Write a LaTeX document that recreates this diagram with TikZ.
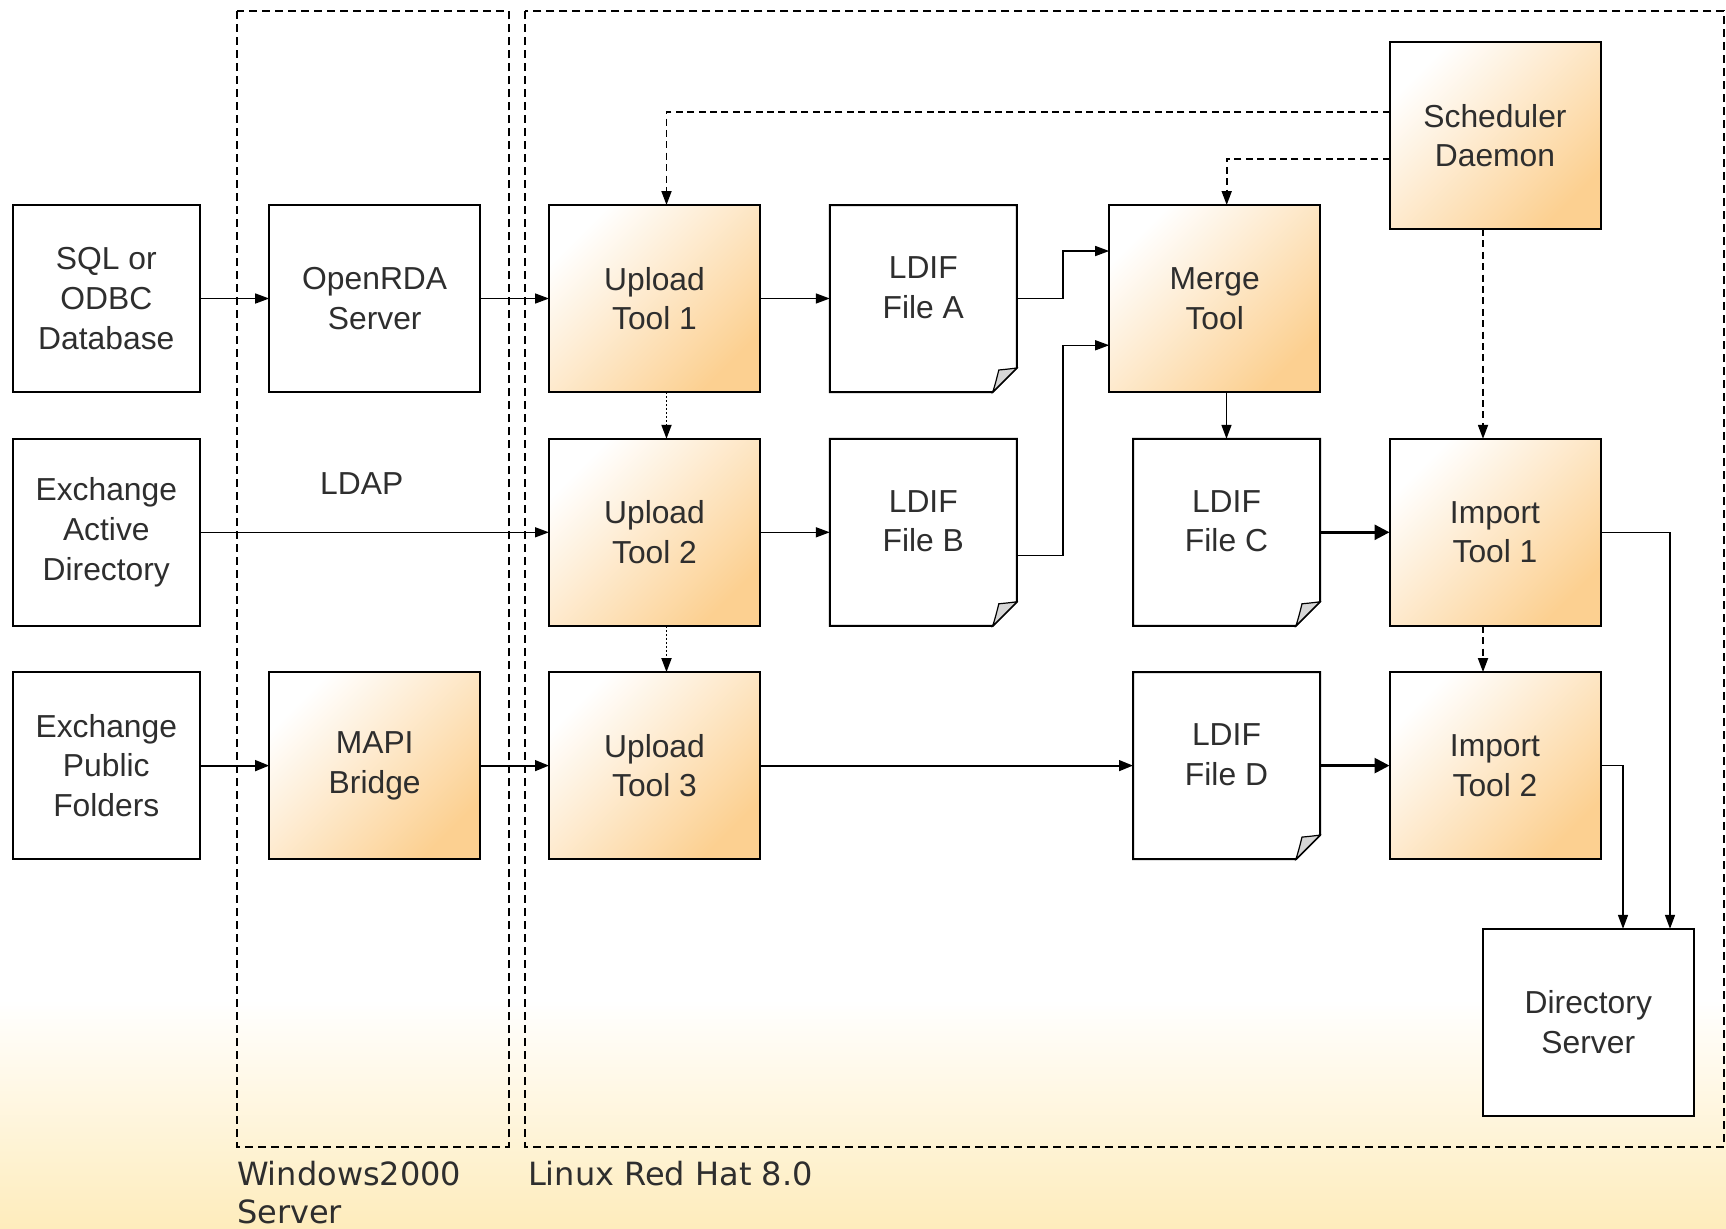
\documentclass[tikz,border=0pt]{standalone}
\usepackage{fontspec}
\setmainfont{Liberation Sans}
\newfontfamily\hostfont{DejaVu Sans}
\usetikzlibrary{arrows.meta,calc}

\definecolor{ink}{HTML}{2E2E2E}
\definecolor{boxorange}{RGB}{252,208,145}
\definecolor{boxmid}{RGB}{254,236,210}
\definecolor{bgyellow}{RGB}{254,236,188}
\definecolor{flapgray}{RGB}{214,214,214}

% an LDIF file: rectangle with a folded bottom-right corner
\newcommand\ldiffile[4]{%
  \node[filebox] (#1) at (#2,#3) {};
  \draw[line width=1pt, fill=white]
    (#1.north west) -- (#1.north east) -- ($(#1.south east)+(0,-24)$)
    -- ($(#1.south east)+(-24,0)$) -- (#1.south west) -- cycle;
  \draw[line width=0.6pt, fill=flapgray]
    ($(#1.south east)+(-24,0)$) .. controls ($(#1.south east)+(-21,-10)$) .. ($(#1.south east)+(-18,-22)$)
    .. controls ($(#1.south east)+(-8,-23)$) .. ($(#1.south east)+(0,-24)$) -- cycle;
  \node (#1-txt) at ($(#1)+(0,-11)$) {LDIF\\File #4};
}

\begin{document}
\begin{tikzpicture}[x=0.5pt, y=-0.5pt,
  every node/.style={text=ink, font=\fontsize{15.9}{19.8}\selectfont,
    align=center, inner sep=0pt, outer sep=0pt},
  plainbox/.style={draw=black, line width=1pt, fill=white,
    minimum width=93.5pt, minimum height=93.5pt},
  widebox/.style={plainbox, minimum width=105.5pt},
  toolbox/.style={widebox, top color=white, middle color=boxmid, bottom color=boxorange, shading angle=45},
  filebox/.style={minimum width=93.5pt, minimum height=93.5pt},
  hostlabel/.style={font=\hostfont\fontsize{16}{19}\selectfont, anchor=base west},
  zone/.style={line width=1pt, dash pattern=on 4pt off 2.5pt},
  conn/.style={line width=0.75pt, -{Triangle[length=7pt,width=5pt]}},
  midconn/.style={line width=1pt, -{Triangle[length=7pt,width=5.4pt]}},
  bigconn/.style={line width=1.35pt, -{Triangle[length=7.5pt,width=7.5pt]}},
  dconn/.style={line width=0.9pt, dash pattern=on 3.5pt off 2.2pt, -{Triangle[length=7pt,width=5pt]}},
  dotconn/.style={line width=0.9pt, dash pattern=on 1pt off 1pt, -{Triangle[length=7pt,width=5pt]}},
]
\useasboundingbox (0,0) rectangle (1726,1228);

% background
\fill[white] (0,0) rectangle (1726,1228);
\shade[top color=white, bottom color=bgyellow] (0,1000) rectangle (1726,1228.5);

% host zones
\draw[zone] (236.7,11) rectangle (508.6,1146.7);
\draw[zone] (524.7,11) rectangle (1724.3,1146.7);
\node[hostlabel] (winlbl) at (237,1185) {Windows2000};
\node[hostlabel] (winlbl2) at (237,1223) {Server};
\node[hostlabel] (linlbl) at (528,1185) {Linux Red Hat 8.0};

% first row
\node[plainbox] (sql) at (106.3,298.5) {SQL or\\ODBC\\Database};
\node[widebox] (openrda) at (374.7,298.5) {OpenRDA\\Server};
\node[toolbox] (up1) at (654.5,298.5) {Upload\\Tool 1};
\ldiffile{ldifA}{923.3}{298.5}{A}
\node[toolbox] (merge) at (1214.7,298.5) {Merge\\Tool};
\node[toolbox] (sched) at (1495,135.5) {Scheduler\\Daemon};

% second row
\node[plainbox] (exad) at (106.3,532.3) {Exchange\\Active\\Directory};
\node (ldap) at (361.7,483.3) {LDAP};
\node[toolbox] (up2) at (654.5,532.3) {Upload\\Tool 2};
\ldiffile{ldifB}{923.3}{532.3}{B}
\ldiffile{ldifC}{1226.5}{532.3}{C}
\node[toolbox] (imp1) at (1495,532.3) {Import\\Tool 1};

% third row
\node[plainbox] (expf) at (106.3,765.6) {Exchange\\Public\\Folders};
\node[toolbox] (mapi) at (374.7,765.6) {MAPI\\Bridge};
\node[toolbox] (up3) at (654.5,765.6) {Upload\\Tool 3};
\ldiffile{ldifD}{1226.5}{765.6}{D}
\node[toolbox] (imp2) at (1495,765.6) {Import\\Tool 2};

\node[widebox] (dir) at (1588.3,1022.3) {Directory\\Server};

% data flow
\draw[conn] (sql) -- (openrda);
\draw[conn] (openrda) -- (up1);
\draw[conn] (up1) -- (ldifA);
\draw[conn] (ldifA.east) -- ++(46,0) |- ($(merge.north west)!0.246!(merge.south west)$);
\draw[conn] ($(ldifB.east)+(0,23.4)$) -- ++(46,0) |- ($(merge.north west)!0.75!(merge.south west)$);
\draw[conn] (merge.south -| ldifC.north) -- (ldifC.north);
\draw[conn] (exad) -- (up2);
\draw[conn] (up2) -- (ldifB);
\draw[bigconn] (ldifC) -- (imp1);
\draw[midconn] (expf) -- (mapi);
\draw[midconn] (mapi) -- (up3);
\draw[midconn] (up3) -- (ldifD);
\draw[bigconn] (ldifD) -- (imp2);
\draw[conn] (imp1.east) -| ($(dir.north)+(81.7,0)$);
\draw[conn] (imp2.east) -| ($(dir.north)+(34.7,0)$);

% control flow
\draw[dconn] ($(sched.north west)!0.374!(sched.south west)$) -| ($(up1.north)+(12,0)$);
\draw[dconn] ($(sched.north west)!0.624!(sched.south west)$) -| ($(merge.north)+(12,0)$);
\draw[dconn] ($(sched.south)+(-12,0)$) -- ($(imp1.north)+(-12,0)$);
\draw[dconn] ($(imp1.south)+(-12,0)$) -- ($(imp2.north)+(-12,0)$);
\draw[dotconn] ($(up1.south)+(12,0)$) -- ($(up2.north)+(12,0)$);
\draw[dotconn] ($(up2.south)+(12,0)$) -- ($(up3.north)+(12,0)$);
\end{tikzpicture}
\end{document}
